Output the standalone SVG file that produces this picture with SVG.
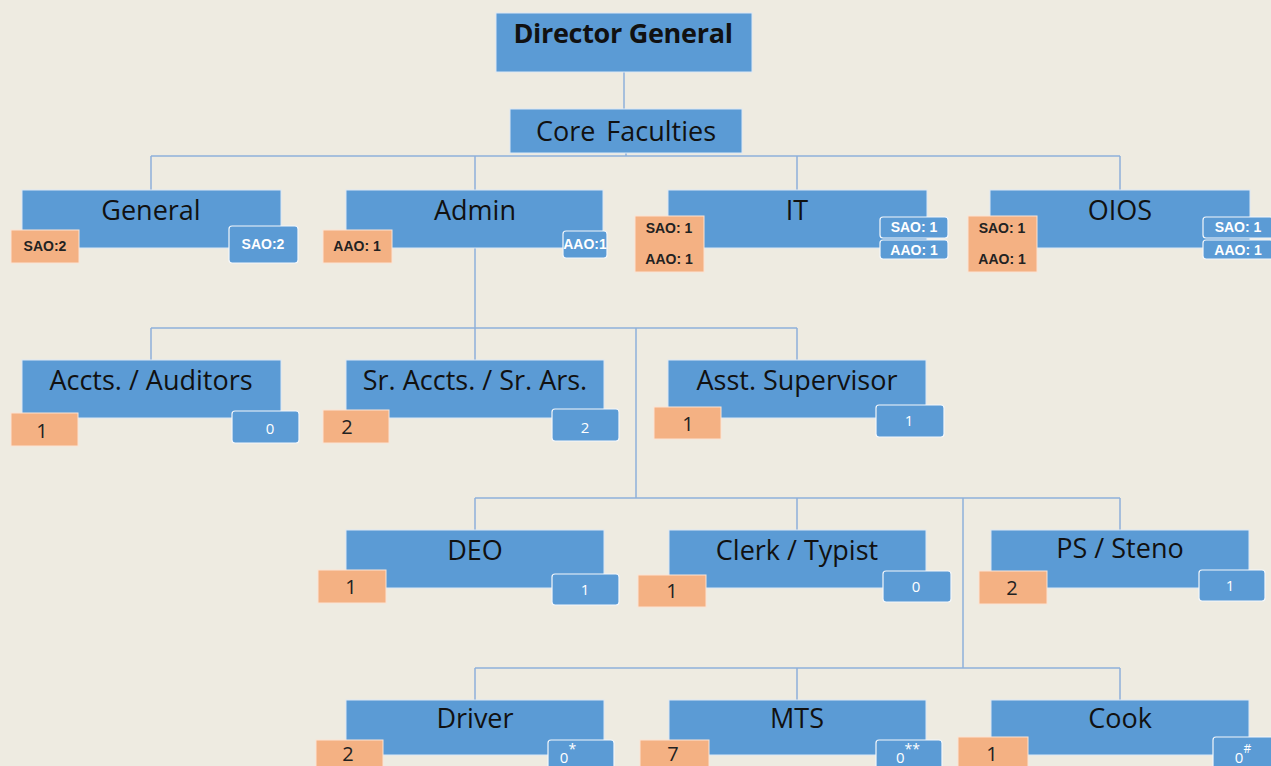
<svg xmlns="http://www.w3.org/2000/svg" width="1271" height="766" viewBox="0 0 1271 766">
  <style>
    .box { fill: #5B9BD5; stroke: #DCE8F5; stroke-width: 1; }
    .lbl { font-family: "Open Sans", "Liberation Sans", sans-serif; font-size: 27px; fill: #111; text-anchor: middle; }
    .bold { font-weight: bold; }
    .org { fill: #F4B183; stroke: #FBE3D3; stroke-width: 1; }
    .bdg { fill: #5B9BD5; stroke: #F4F7FB; stroke-width: 1.2; }
    .on { font-family: "Open Sans", "Liberation Sans", sans-serif; font-size: 20px; fill: #222; text-anchor: middle; }
    .bn { font-family: "Open Sans", "Liberation Sans", sans-serif; font-size: 15px; fill: #fff; text-anchor: middle; }
    .os { font-family: "Liberation Sans", sans-serif; font-size: 14px; font-weight: bold; fill: #222; text-anchor: middle; }
    .bs { font-family: "Liberation Sans", sans-serif; font-size: 14px; font-weight: bold; fill: #fff; text-anchor: middle; }
    .ln { stroke: #8EB0DA; stroke-width: 1.5; fill: none; }
  </style>
  <rect width="1271" height="766" fill="#EEEBE1"/>

  <g id="connectors" class="ln">
    <path d="M624 72 V109"/>
    <path d="M626 153 V156"/>
    <path d="M151 156 H1120"/>
    <path d="M151 156 V190 M475 156 V190 M797 156 V190 M1120 156 V190"/>
    <path d="M475 248 V328"/>
    <path d="M151 328 H797"/>
    <path d="M151 328 V360 M475 328 V360 M797 328 V360"/>
    <path d="M636 328 V498"/>
    <path d="M475 498 H1120"/>
    <path d="M475 498 V530 M797 498 V530 M1120 498 V530"/>
    <path d="M963 498 V668"/>
    <path d="M475 668 H1120"/>
    <path d="M475 668 V700 M797 668 V700 M1120 668 V700"/>
  </g>

  <g id="director-general">
    <rect class="box" x="496" y="13" width="256" height="59"/>
    <text class="lbl bold" x="623" y="43" font-size="28" letter-spacing="-0.3">Director General</text>
  </g>

  <g id="core-faculties">
    <rect class="box" x="510" y="109" width="232" height="44"/>
    <text class="lbl" x="626" y="141" font-size="30" word-spacing="4">Core Faculties</text>
  </g>

  <g id="general">
    <rect class="box" x="22" y="190" width="259" height="58"/>
    <text class="lbl" x="151" y="220">General</text>
    <rect class="org" x="11" y="230" width="68" height="33"/>
    <text class="os" x="45" y="251">SAO:2</text>
    <rect class="bdg" x="229" y="226" width="69" height="37" rx="3"/>
    <text class="bs" x="263" y="249">SAO:2</text>
  </g>

  <g id="admin">
    <rect class="box" x="346" y="190" width="257" height="58"/>
    <text class="lbl" x="475" y="220">Admin</text>
    <rect class="org" x="323" y="230" width="69" height="33"/>
    <text class="os" x="357" y="251">AAO: 1</text>
    <rect class="bdg" x="563" y="231" width="44" height="27" rx="3"/>
    <text class="bs" x="585" y="249" font-size="11">AAO:1</text>
  </g>

  <g id="it">
    <rect class="box" x="668" y="190" width="259" height="58"/>
    <text class="lbl" x="797" y="220">IT</text>
    <rect class="org" x="635" y="216" width="69" height="56"/>
    <text class="os" x="669" y="233">SAO: 1</text>
    <text class="os" x="669" y="264">AAO: 1</text>
    <rect class="bdg" x="880" y="217" width="68" height="21" rx="3"/>
    <text class="bs" x="914" y="232">SAO: 1</text>
    <rect class="bdg" x="880" y="240" width="68" height="19" rx="3"/>
    <text class="bs" x="914" y="255">AAO: 1</text>
  </g>

  <g id="oios">
    <rect class="box" x="990" y="190" width="260" height="58"/>
    <text class="lbl" x="1120" y="220">OIOS</text>
    <rect class="org" x="968" y="216" width="69" height="56"/>
    <text class="os" x="1002" y="233">SAO: 1</text>
    <text class="os" x="1002" y="264">AAO: 1</text>
    <rect class="bdg" x="1203" y="217" width="70" height="21" rx="3"/>
    <text class="bs" x="1238" y="232">SAO: 1</text>
    <rect class="bdg" x="1203" y="240" width="70" height="19" rx="3"/>
    <text class="bs" x="1238" y="255">AAO: 1</text>
  </g>

  <g id="accts-auditors">
    <rect class="box" x="22" y="360" width="259" height="58"/>
    <text class="lbl" x="151" y="390">Accts. / Auditors</text>
    <rect class="org" x="11" y="413" width="67" height="33"/>
    <text class="on" x="42" y="438">1</text>
    <rect class="bdg" x="232" y="411" width="67" height="32" rx="3"/>
    <text class="bn" x="270" y="434" font-size="19">0</text>
  </g>

  <g id="sr-accts">
    <rect class="box" x="346" y="360" width="258" height="58"/>
    <text class="lbl" x="475" y="390">Sr. Accts. / Sr. Ars.</text>
    <rect class="org" x="323" y="410" width="66" height="33"/>
    <text class="on" x="347" y="434">2</text>
    <rect class="bdg" x="552" y="409" width="67" height="32" rx="3"/>
    <text class="bn" x="585" y="433" font-size="19">2</text>
  </g>

  <g id="asst-supervisor">
    <rect class="box" x="668" y="360" width="258" height="58"/>
    <text class="lbl" x="797" y="390">Asst. Supervisor</text>
    <rect class="org" x="654" y="407" width="67" height="32"/>
    <text class="on" x="688" y="431">1</text>
    <rect class="bdg" x="876" y="405" width="68" height="32" rx="3"/>
    <text class="bn" x="909" y="426">1</text>
  </g>

  <g id="deo">
    <rect class="box" x="346" y="530" width="258" height="58"/>
    <text class="lbl" x="475" y="560">DEO</text>
    <rect class="org" x="318" y="570" width="68" height="33"/>
    <text class="on" x="351" y="594">1</text>
    <rect class="bdg" x="552" y="574" width="67" height="31" rx="3"/>
    <text class="bn" x="585" y="595">1</text>
  </g>

  <g id="clerk-typist">
    <rect class="box" x="669" y="530" width="257" height="58"/>
    <text class="lbl" x="797" y="560">Clerk / Typist</text>
    <rect class="org" x="638" y="575" width="68" height="32"/>
    <text class="on" x="672" y="598">1</text>
    <rect class="bdg" x="883" y="571" width="68" height="31" rx="3"/>
    <text class="bn" x="916" y="592">0</text>
  </g>

  <g id="ps-steno">
    <rect class="box" x="991" y="530" width="258" height="58"/>
    <text class="lbl" x="1120" y="558">PS / Steno</text>
    <rect class="org" x="979" y="571" width="68" height="33"/>
    <text class="on" x="1012" y="595">2</text>
    <rect class="bdg" x="1199" y="570" width="66" height="31" rx="3"/>
    <text class="bn" x="1230" y="591">1</text>
  </g>

  <g id="driver">
    <rect class="box" x="346" y="700" width="258" height="55"/>
    <text class="lbl" x="475" y="728">Driver</text>
    <rect class="org" x="316" y="740" width="67" height="30"/>
    <text class="on" x="348" y="761" font-size="19">2</text>
    <rect class="bdg" x="548" y="740" width="66" height="30" rx="3"/>
    <text class="bn" x="568" y="763">0<tspan dy="-9" font-size="14">*</tspan></text>
  </g>

  <g id="mts">
    <rect class="box" x="669" y="700" width="257" height="55"/>
    <text class="lbl" x="797" y="728">MTS</text>
    <rect class="org" x="640" y="740" width="69" height="30"/>
    <text class="on" x="673" y="761" font-size="19">7</text>
    <rect class="bdg" x="876" y="740" width="66" height="30" rx="3"/>
    <text class="bn" x="908" y="763">0<tspan dy="-9" font-size="14">**</tspan></text>
  </g>

  <g id="cook">
    <rect class="box" x="991" y="700" width="258" height="55"/>
    <text class="lbl" x="1120" y="728">Cook</text>
    <rect class="org" x="958" y="737" width="70" height="32"/>
    <text class="on" x="992" y="761" font-size="19">1</text>
    <rect class="bdg" x="1213" y="737" width="62" height="32" rx="3"/>
    <text class="bn" x="1243" y="763">0<tspan dy="-10" font-size="12">#</tspan></text>
  </g>
</svg>
